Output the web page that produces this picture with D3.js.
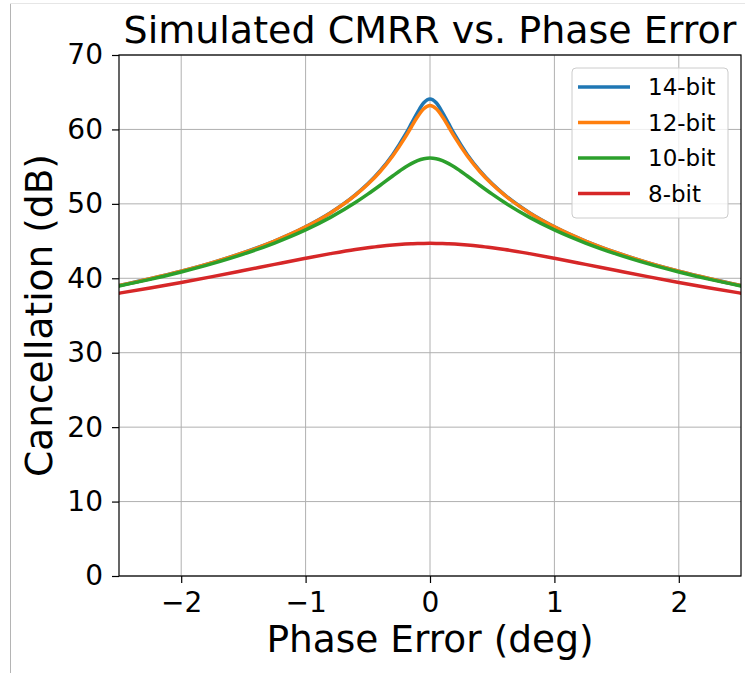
<!DOCTYPE html>
<html>
<head>
<meta charset="utf-8">
<script src="https://cdn.jsdelivr.net/npm/d3@7"></script>
<style>
  html, body { margin: 0; padding: 0; background: #fff; }
  svg { display: block; font-family: "DejaVu Sans", sans-serif; }
</style>
</head>
<body>
<svg id="chart" width="745" height="673"></svg>
<script>
// ---- data ----
const phaseError = [-2.5, -2.25, -2.0, -1.75, -1.5, -1.25, -1.0, -0.8, -0.6, -0.5, -0.4, -0.3, -0.2, -0.15, -0.1, -0.05,
  0, 0.05, 0.1, 0.15, 0.2, 0.3, 0.4, 0.5, 0.6, 0.8, 1.0, 1.25, 1.5, 1.75, 2.0, 2.25, 2.5];
const bit14 = [39.03, 39.94, 40.96, 42.11, 43.44, 45.01, 46.92, 48.81, 51.21, 52.69, 54.46, 56.61, 59.26, 60.77, 62.30, 63.58,
  64.10, 63.58, 62.30, 60.77, 59.26, 56.61, 54.46, 52.69, 51.21, 48.81, 46.92, 45.01, 43.44, 42.11, 40.96, 39.94, 39.03];
const bit12 = [39.02, 39.94, 40.95, 42.11, 43.43, 45.00, 46.90, 48.78, 51.16, 52.62, 54.35, 56.43, 58.94, 60.33, 61.69, 62.77,
  63.20, 62.77, 61.69, 60.33, 58.94, 56.43, 54.35, 52.62, 51.16, 48.78, 46.90, 45.00, 43.43, 42.11, 40.95, 39.94, 39.02];
const bit10 = [38.96, 39.85, 40.85, 41.97, 43.25, 44.74, 46.50, 48.18, 50.17, 51.30, 52.50, 53.74, 54.92, 55.41, 55.81, 56.06,
  56.15, 56.06, 55.81, 55.41, 54.92, 53.74, 52.50, 51.30, 50.17, 48.18, 46.50, 44.74, 43.25, 41.97, 40.85, 39.85, 38.96];
const bit8 = [38.00, 38.70, 39.44, 40.22, 41.04, 41.87, 42.69, 43.31, 43.87, 44.10, 44.31, 44.48, 44.60, 44.64, 44.67, 44.69,
  44.70, 44.69, 44.67, 44.64, 44.60, 44.48, 44.31, 44.10, 43.87, 43.31, 42.69, 41.87, 41.04, 40.22, 39.44, 38.70, 38.00];
const seriesNames = ["14-bit", "12-bit", "10-bit", "8-bit"];
const seriesValues = [bit14, bit12, bit10, bit8];
const seriesColors = ["#1f77b4", "#ff7f0e", "#2ca02c", "#d62728"];
const xTicks = [-2, -1, 0, 1, 2];
const yTicks = [0, 10, 20, 30, 40, 50, 60, 70];
const titleText = "Simulated CMRR vs. Phase Error";
const xLabel = "Phase Error (deg)";
const yLabel = "Cancellation (dB)";

(function () {
// ---- layout ----
const svg = d3.select("#chart");
const pL = 119, pR = 741, pT = 55, pB = 576;
const x = d3.scaleLinear().domain([-2.5, 2.5]).range([pL, pR]);
const y = d3.scaleLinear().domain([0, 70]).range([pB, pT]);

// faint outer image border (left and top)
svg.append("line").attr("x1", 10.5).attr("x2", 10.5).attr("y1", 3).attr("y2", 673)
  .attr("stroke", "#b4b4b4").attr("stroke-width", 1);
svg.append("line").attr("x1", 10).attr("x2", 745).attr("y1", 3.5).attr("y2", 3.5)
  .attr("stroke", "#e6e6e6").attr("stroke-width", 1);

// grid
const grid = svg.append("g");
grid.selectAll("line.vx").data(xTicks).join("line")
  .attr("x1", d => x(d)).attr("x2", d => x(d)).attr("y1", pT).attr("y2", pB)
  .attr("stroke", "#b0b0b0").attr("stroke-width", 1);
grid.selectAll("line.hy").data(yTicks).join("line")
  .attr("y1", d => y(d)).attr("y2", d => y(d)).attr("x1", pL).attr("x2", pR)
  .attr("stroke", "#b0b0b0").attr("stroke-width", 1);

// lines
svg.append("clipPath").attr("id", "clip").append("rect")
  .attr("x", pL).attr("y", pT).attr("width", pR - pL).attr("height", pB - pT);
const line = d3.line().x((d, i) => x(phaseError[i])).y(d => y(d)).curve(d3.curveMonotoneX);
svg.append("g").attr("clip-path", "url(#clip)")
  .selectAll("path").data(seriesValues).join("path")
  .attr("d", d => line(d)).attr("fill", "none")
  .attr("stroke", (d, i) => seriesColors[i]).attr("stroke-width", 3.5)
  .attr("stroke-linejoin", "round").attr("stroke-linecap", "square");

// axes
const fmt = d => d < 0 ? "\u2212" + Math.abs(d) : String(d);
const xAxis = svg.append("g").attr("transform", `translate(0,${pB})`)
  .call(d3.axisBottom(x).tickValues(xTicks).tickFormat(fmt).tickSizeInner(7).tickSizeOuter(0).tickPadding(9));
const yAxis = svg.append("g").attr("transform", `translate(${pL},0)`)
  .call(d3.axisLeft(y).tickValues(yTicks).tickFormat(fmt).tickSizeInner(7).tickSizeOuter(0).tickPadding(9));
[xAxis, yAxis].forEach(a => {
  a.select(".domain").remove();
  a.selectAll(".tick line").attr("stroke", "#000").attr("stroke-width", 1.2);
  a.selectAll(".tick text").attr("font-size", 28).attr("font-family", "DejaVu Sans").attr("fill", "#000");
});

// frame
svg.append("rect").attr("x", pL).attr("y", pT).attr("width", pR - pL).attr("height", pB - pT)
  .attr("fill", "none").attr("stroke", "#000").attr("stroke-width", 1.2);

// title & labels
svg.append("text").attr("x", (pL + pR) / 2).attr("y", 43).attr("text-anchor", "middle")
  .attr("font-size", 38).text(titleText);
svg.append("text").attr("x", (pL + pR) / 2).attr("y", 652).attr("text-anchor", "middle")
  .attr("font-size", 37.5).text(xLabel);
svg.append("text").attr("transform", `translate(52,${(pT + pB) / 2}) rotate(-90)`)
  .attr("text-anchor", "middle").attr("font-size", 37.5).text(yLabel);

// legend
const lg = svg.append("g");
lg.append("rect").attr("x", 572).attr("y", 68).attr("width", 156).attr("height", 150).attr("rx", 4)
  .attr("fill", "#fff").attr("fill-opacity", 0.8).attr("stroke", "#cccccc").attr("stroke-width", 1);
seriesNames.forEach((n, i) => {
  const yy = 87 + i * 35.5;
  lg.append("line").attr("x1", 578).attr("x2", 630).attr("y1", yy).attr("y2", yy)
    .attr("stroke", seriesColors[i]).attr("stroke-width", 3.5);
  lg.append("text").attr("x", 648).attr("y", yy + 8).attr("font-size", 23).text(n);
});
})();
</script>
</body>
</html>
